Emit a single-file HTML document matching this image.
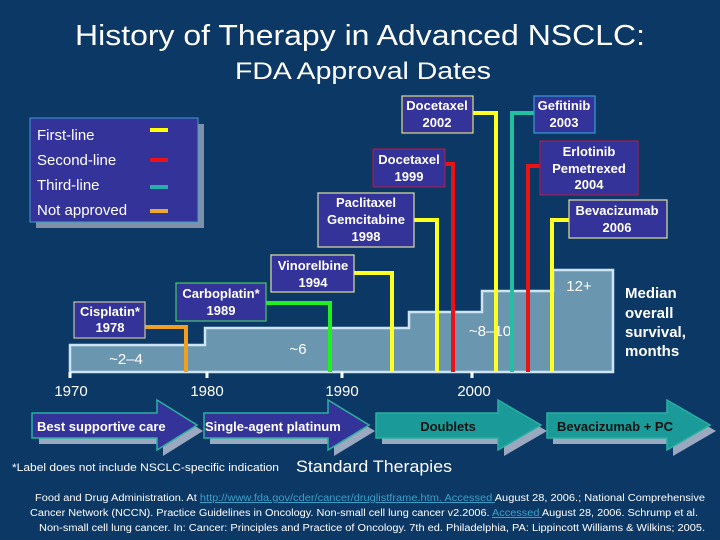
<!DOCTYPE html>
<html><head><meta charset="utf-8"><style>
html,body{margin:0;padding:0;background:#0c3866;}
svg{display:block}
text{font-family:"Liberation Sans",Arial,sans-serif;}
.b{font-weight:bold;fill:#fff;font-size:13px;text-anchor:middle}
</style></head><body>
<svg width="720" height="540" viewBox="0 0 720 540" xmlns="http://www.w3.org/2000/svg">
<rect width="720" height="540" fill="#0c3866"/>
<text x="360" y="45" fill="#fff" font-size="29" text-anchor="middle" textLength="570" lengthAdjust="spacingAndGlyphs">History of Therapy in Advanced NSCLC:</text>
<text x="363" y="79" fill="#fff" font-size="24" text-anchor="middle" textLength="256" lengthAdjust="spacingAndGlyphs">FDA Approval Dates</text>

<!-- legend -->
<rect x="36" y="124" width="168" height="104" fill="#7f90a8"/>
<rect x="30" y="118" width="168" height="104" fill="#333399" stroke="#3aa0c8" stroke-width="1"/>
<text x="37" y="140" fill="#fff" font-size="15">First-line</text>
<text x="37" y="165" fill="#fff" font-size="15">Second-line</text>
<text x="37" y="190" fill="#fff" font-size="15">Third-line</text>
<text x="37" y="215" fill="#fff" font-size="15">Not approved</text>
<rect x="150" y="128" width="18" height="4" fill="#ffff00"/>
<rect x="150" y="158" width="18" height="4" fill="#ee1111"/>
<rect x="150" y="185" width="18" height="4" fill="#22b0a8"/>
<rect x="150" y="209" width="18" height="4" fill="#f0a830"/>

<!-- survival area -->
<path d="M70,372 V345 H205 V328 H409 V312 H482 V291 H553 V270 H613 V372 Z" fill="#6a96b0" stroke="#cde4f2" stroke-width="2.5"/>
<line x1="70" y1="372" x2="70" y2="378" stroke="#fff" stroke-width="3"/>
<line x1="207" y1="372" x2="207" y2="378" stroke="#fff" stroke-width="3"/>
<line x1="342" y1="372" x2="342" y2="378" stroke="#fff" stroke-width="3"/>
<line x1="472" y1="372" x2="472" y2="378" stroke="#fff" stroke-width="3"/>
<text x="71" y="396" fill="#fff" font-size="15" text-anchor="middle">1970</text>
<text x="207" y="396" fill="#fff" font-size="15" text-anchor="middle">1980</text>
<text x="342" y="396" fill="#fff" font-size="15" text-anchor="middle">1990</text>
<text x="474" y="396" fill="#fff" font-size="15" text-anchor="middle">2000</text>
<text x="126" y="364" fill="#fff" font-size="15" text-anchor="middle">~2–4</text>
<text x="298" y="354" fill="#fff" font-size="15" text-anchor="middle">~6</text>
<text x="490" y="336" fill="#fff" font-size="15" text-anchor="middle">~8–10</text>
<text x="579" y="291" fill="#fff" font-size="15" text-anchor="middle">12+</text>
<g fill="#fff" font-size="15" font-weight="bold">
<text x="625" y="298">Median</text><text x="625" y="318">overall</text><text x="625" y="337">survival,</text><text x="625" y="356">months</text></g>

<!-- connectors -->
<g fill="none" stroke-width="4">
<polyline points="145,327 186,327 186,372" stroke="#f0a020"/>
<polyline points="266,303 330,303 330,372" stroke="#22ee22"/>
<polyline points="354,273 392,273 392,372" stroke="#ffff22"/>
<polyline points="414,220 437,220 437,372" stroke="#ffff22"/>
<polyline points="445,164 453,164 453,372" stroke="#ee1111"/>
<polyline points="473,113 496,113 496,372" stroke="#ffff22"/>
<polyline points="534,113 512,113 512,372" stroke="#22c0a0"/>
<polyline points="540,166 528,166 528,372" stroke="#ee1111"/>
<polyline points="569,220 552,220 552,372" stroke="#ffff22"/>
</g>

<!-- boxes -->
<g fill="#333399" stroke-width="1.2">
<rect x="74" y="302" width="71" height="36" stroke="#c8c0a0"/>
<rect x="176" y="283" width="90" height="38" stroke="#44cc66"/>
<rect x="271" y="255" width="83" height="37" stroke="#e0e0a0"/>
<rect x="318" y="193" width="96" height="54" stroke="#e0e0a0"/>
<rect x="373" y="149" width="72" height="38" stroke="#a02050"/>
<rect x="402" y="96" width="71" height="37" stroke="#e0e080"/>
<rect x="534" y="96" width="61" height="37" stroke="#30a0d0"/>
<rect x="540" y="141" width="98" height="54" stroke="#a02050"/>
<rect x="569" y="200" width="98" height="38" stroke="#e0e0a0"/>
</g>
<text class="b" x="110" y="316">Cisplatin*</text><text class="b" x="110" y="332">1978</text>
<text class="b" x="221" y="298">Carboplatin*</text><text class="b" x="221" y="315">1989</text>
<text class="b" x="313" y="270">Vinorelbine</text><text class="b" x="313" y="287">1994</text>
<text class="b" x="366" y="207">Paclitaxel</text><text class="b" x="366" y="224">Gemcitabine</text><text class="b" x="366" y="241">1998</text>
<text class="b" x="409" y="164">Docetaxel</text><text class="b" x="409" y="181">1999</text>
<text class="b" x="437" y="110">Docetaxel</text><text class="b" x="437" y="127">2002</text>
<text class="b" x="564" y="110">Gefitinib</text><text class="b" x="564" y="127">2003</text>
<text class="b" x="589" y="156">Erlotinib</text><text class="b" x="589" y="173">Pemetrexed</text><text class="b" x="589" y="189">2004</text>
<text class="b" x="617" y="215">Bevacizumab</text><text class="b" x="617" y="232">2006</text>

<!-- arrows -->
<g stroke="#2ab0a0" stroke-width="1.5">
<path d="M39,419 H163 V406 L203,431 L163,456 V444 H39 Z" fill="#9aa8c0" stroke="none"/>
<path d="M32,413 H157 V400 L197,425 L157,450 V438 H32 Z" fill="#333399"/>
<path d="M210,419 H334 V406 L375,431 L334,456 V444 H210 Z" fill="#9aa8c0" stroke="none"/>
<path d="M204,413 H328 V400 L369,425 L328,450 V438 H204 Z" fill="#333399"/>
<path d="M382,419 H504 V406 L547,431 L504,456 V444 H382 Z" fill="#9aa8c0" stroke="none"/>
<path d="M376,413 H498 V400 L541,425 L498,450 V438 H376 Z" fill="#1a9a98"/>
<path d="M553,419 H673 V406 L716,431 L673,456 V444 H553 Z" fill="#9aa8c0" stroke="none"/>
<path d="M547,413 H667 V400 L710,425 L667,450 V438 H547 Z" fill="#1a9a98"/>
</g>
<text x="37" y="431" fill="#fff" font-size="13" font-weight="bold">Best supportive care</text>
<text x="205" y="431" fill="#fff" font-size="13" font-weight="bold">Single-agent platinum</text>
<text x="448" y="431" fill="#111" font-size="13" font-weight="bold" text-anchor="middle">Doublets</text>
<text x="557" y="431" fill="#111" font-size="13" font-weight="bold">Bevacizumab + PC</text>

<text x="12" y="471" fill="#fff" font-size="11" textLength="267" lengthAdjust="spacingAndGlyphs">*Label does not include NSCLC-specific indication</text>
<text x="296" y="472" fill="#fff" font-size="17" textLength="156" lengthAdjust="spacingAndGlyphs">Standard Therapies</text>
<g fill="#fff" font-size="10" text-anchor="middle">
<text x="370" y="501" textLength="670" lengthAdjust="spacingAndGlyphs">Food and Drug Administration. At <tspan fill="#3aa0c8" text-decoration="underline">http://www.fda.gov/cder/cancer/druglistframe.htm. Accessed </tspan>August 28, 2006.; National Comprehensive</text>
<text x="364" y="516" textLength="668" lengthAdjust="spacingAndGlyphs">Cancer Network (NCCN). Practice Guidelines in Oncology. Non-small cell lung cancer v2.2006. <tspan fill="#3aa0c8" text-decoration="underline">Accessed </tspan>August 28, 2006. Schrump et al.</text>
<text x="372" y="531" textLength="666" lengthAdjust="spacingAndGlyphs">Non-small cell lung cancer. In: Cancer: Principles and Practice of Oncology. 7th ed. Philadelphia, PA: Lippincott Williams &amp; Wilkins; 2005.</text>
</g>
</svg>
</body></html>
